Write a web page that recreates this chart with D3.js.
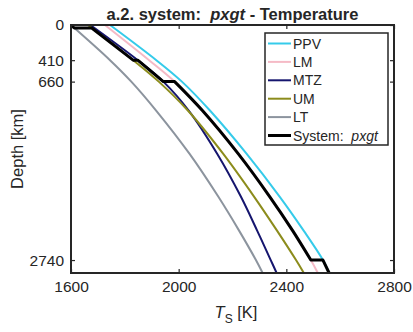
<!DOCTYPE html>
<html>
<head>
<meta charset="utf-8">
<script src="https://cdn.jsdelivr.net/npm/d3@7"></script>
<style>
  body { margin: 0; background: #fff; }
  text { font-family: "Liberation Sans", Arial, sans-serif; fill: #262626; }
</style>
</head>
<body>
<div id="chart"></div>
<script>
// depth levels (km) and temperatures (K)
const depthKm = [0, 410, 660, 1000, 1500, 2000, 2400, 2740, 2891];
const tPPV = [1745, 1917, 2012, 2117, 2252, 2375, 2465, 2536, 2559];
const tLM = [1726, 1890, 1985, 2089, 2221, 2338, 2424, 2491, 2517];
const tMTZ = [1672, 1848, 1943, 2038, 2143, 2231, 2292, 2342, 2364];
const tUM = [1663, 1831, 1926, 2035, 2165, 2280, 2366, 2436, 2465];
const tLT = [1600, 1745, 1824, 1917, 2040, 2147, 2225, 2287, 2312];

// the composite system profile (steps at the phase boundaries)
const sysDepth = [0, 35, 35, 410, 410, 660, 660, 1000, 1500, 2000, 2400, 2740, 2740, 2891];
const sysT = [1600, 1612, 1677, 1831, 1848, 1943, 1985, 2089, 2221, 2338, 2424, 2491, 2536, 2559];

const seriesNames = ["PPV", "LM", "MTZ", "UM", "LT"];
const seriesT = [tPPV, tLM, tMTZ, tUM, tLT];
const seriesColors = ["#35CBEA", "#F5BAC6", "#15156E", "#8C8C1C", "#8C949E"];

const xTicks = [1600, 2000, 2400, 2800];
const yTicks = [0, 410, 660, 2740];

const width = 413,
  height = 332;
const plot = { left: 71, right: 394, top: 25, bottom: 273 };

const svg = d3
  .select("#chart")
  .append("svg")
  .attr("width", width)
  .attr("height", height);

const x = d3.scaleLinear().domain([1600, 2800]).range([plot.left, plot.right]);
const y = d3.scaleLinear().domain([0, 2891]).range([plot.top, plot.bottom]);

const line = d3
  .line()
  .x((d) => x(d[1]))
  .y((d) => y(d[0]))
  .curve(d3.curveCatmullRom);

const g = svg.append("g");

// individual phase curves
seriesT.forEach((ts, i) => {
  g.append("path")
    .attr("d", line(depthKm.map((z, j) => [z, ts[j]])))
    .attr("fill", "none")
    .attr("stroke", seriesColors[i])
    .attr("stroke-width", 2);
});

// system curve: split at repeated depths, join segments into one path
const segs = [];
let cur = [];
sysDepth.forEach((z, i) => {
  if (i > 0 && z === sysDepth[i - 1]) {
    segs.push(cur);
    cur = [];
  }
  cur.push([z, sysT[i]]);
});
segs.push(cur);
const sysPath = segs
  .map((s, i) => {
    const p = s.length > 1 ? line(s) : `M${x(s[0][1])},${y(s[0][0])}`;
    return i === 0 ? p : "L" + p.slice(1);
  })
  .join("");
g.append("path")
  .attr("d", sysPath)
  .attr("fill", "none")
  .attr("stroke", "#000")
  .attr("stroke-width", 3)
  .attr("stroke-linejoin", "round");

// axes box with inward ticks on all sides
const axisColor = "#262626";
const tl = 4;
const axB = d3.axisBottom(x).tickValues(xTicks).tickSize(-tl).tickPadding(8).tickFormat(d3.format("d"));
const axT = d3.axisTop(x).tickValues(xTicks).tickSize(-tl).tickFormat("");
const axL = d3.axisLeft(y).tickValues(yTicks).tickSize(-tl).tickPadding(7).tickFormat(d3.format("d"));
const axR = d3.axisRight(y).tickValues(yTicks).tickSize(-tl).tickFormat("");

const styleAxis = (sel) => {
  sel.select(".domain").remove();
  sel.selectAll("line").attr("stroke", axisColor).attr("stroke-width", 1.2);
  sel.selectAll("text").attr("font-size", 15.5).attr("fill", axisColor)
    .attr("font-family", '"Liberation Sans", Arial, sans-serif');
};
svg.append("g").attr("transform", `translate(0,${plot.bottom})`).call(axB).call(styleAxis);
svg.append("g").attr("transform", `translate(0,${plot.top})`).call(axT).call(styleAxis);
svg.append("g").attr("transform", `translate(${plot.left},0)`).call(axL).call(styleAxis);
svg.append("g").attr("transform", `translate(${plot.right},0)`).call(axR).call(styleAxis);

svg.append("rect")
  .attr("x", plot.left)
  .attr("y", plot.top)
  .attr("width", plot.right - plot.left)
  .attr("height", plot.bottom - plot.top)
  .attr("fill", "none")
  .attr("stroke", axisColor)
  .attr("stroke-width", 2);

// title
const title = svg.append("text")
  .attr("x", (plot.left + plot.right) / 2)
  .attr("y", 20)
  .attr("text-anchor", "middle")
  .attr("font-size", 16.5)
  .attr("font-weight", "bold");
title.append("tspan").text("a.2. system:\u00a0\u00a0");
title.append("tspan").attr("font-style", "italic").text("pxgt");
title.append("tspan").text(" - Temperature");

// axis labels
const xl = svg.append("text")
  .attr("x", 236)
  .attr("y", 318)
  .attr("text-anchor", "middle")
  .attr("font-size", 16.5);
xl.append("tspan").attr("font-style", "italic").text("T");
xl.append("tspan").attr("font-size", 12).attr("dy", 5).text("S");
xl.append("tspan").attr("dy", -5).text(" [K]");

svg.append("text")
  .attr("transform", `translate(23,${(plot.top + plot.bottom) / 2}) rotate(-90)`)
  .attr("text-anchor", "middle")
  .attr("font-size", 16.5)
  .text("Depth [km]");

// legend
const lg = svg.append("g");
lg.append("rect")
  .attr("x", 265)
  .attr("y", 33)
  .attr("width", 123)
  .attr("height", 112)
  .attr("fill", "#fff")
  .attr("stroke", axisColor)
  .attr("stroke-width", 1.5);

const legNames = seriesNames.concat(["System:"]);
const legColors = seriesColors.concat(["#000"]);
legNames.forEach((name, i) => {
  const ly = 43.5 + i * 18.4;
  lg.append("line")
    .attr("x1", 268)
    .attr("x2", 291)
    .attr("y1", ly)
    .attr("y2", ly)
    .attr("stroke", legColors[i])
    .attr("stroke-width", i === 5 ? 3 : 2);
  const t = lg.append("text")
    .attr("x", 293)
    .attr("y", ly + 5)
    .attr("font-size", 14)
    .text(name);
  if (i === 5) {
    t.append("tspan").text("\u00a0\u00a0");
    t.append("tspan").attr("font-style", "italic").text("pxgt");
  }
});
</script>
</body>
</html>
